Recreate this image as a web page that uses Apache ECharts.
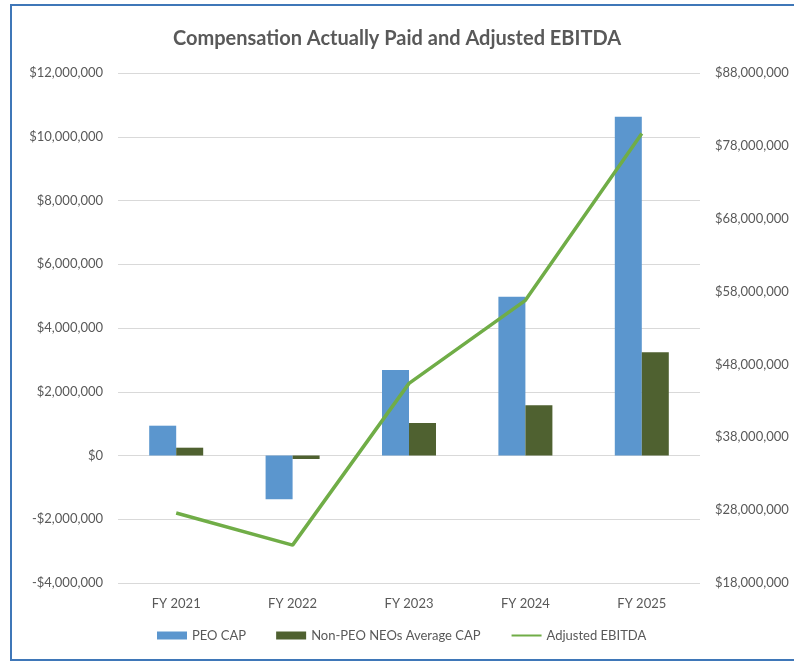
<!DOCTYPE html>
<html>
<head>
<meta charset="utf-8">
<script src="https://cdn.jsdelivr.net/npm/echarts@6/dist/echarts.min.js"></script>
<style>
  html, body { margin: 0; padding: 0; background: #fff; overflow: hidden; }
  #wrap { position: relative; width: 794px; height: 665px; overflow: hidden; }
  #frame {
    position: absolute; left: 10px; top: 4px; width: 784px; height: 657px;
    border: 2px solid #3F77B8; border-right: none; box-sizing: border-box;
  }
  #chart { position: absolute; left: 0; top: 0; width: 794px; height: 665px; }
</style>
</head>
<body>
<div id="wrap">
  <div id="frame"></div>
  <div id="chart"></div>
</div>
<script>
// 数据
const years = ['FY 2021', 'FY 2022', 'FY 2023', 'FY 2024', 'FY 2025']
const peoCap = [935000, -1370000, 2680000, 4980000, 10630000]
const nonPeoCap = [245000, -110000, 1020000, 1580000, 3240000]
const adjEbitda = [27600000, 23200000, 45400000, 56800000, 79700000]

const fontFamily = 'Lato, "Open Sans", sans-serif'
const textColor = '#595959'

function money(v) {
  const s = '$' + Math.abs(v).toLocaleString('en-US')
  return v < 0 ? '-' + s : s
}

const chart = echarts.init(document.getElementById('chart'))
const option = {
  animation: false,
  textStyle: { fontFamily: fontFamily },
  title: {
    text: 'Compensation Actually Paid and Adjusted EBITDA',
    left: 'center',
    top: 24,
    textStyle: { fontFamily: fontFamily, fontSize: 20, fontWeight: 'bold', color: textColor }
  },
  grid: { left: 118, right: 94, top: 73, bottom: 82 },
  legend: {
    bottom: 18,
    left: 152,
    itemWidth: 30,
    itemHeight: 8,
    itemGap: 30,
    textStyle: { fontFamily: fontFamily, fontSize: 13, color: textColor },
    data: [
      { name: 'PEO CAP', icon: 'rect' },
      { name: 'Non-PEO NEOs Average CAP', icon: 'rect' },
      { name: 'Adjusted EBITDA', itemStyle: { opacity: 0 } }
    ]
  },
  xAxis: {
    type: 'category',
    data: years,
    axisLine: { show: false, onZero: false },
    axisTick: { show: false },
    axisLabel: { color: textColor, fontSize: 13, margin: 14 }
  },
  yAxis: [
    {
      type: 'value',
      min: -4000000,
      max: 12000000,
      interval: 2000000,
      axisLine: { show: false },
      axisTick: { show: false },
      splitLine: { lineStyle: { color: '#D9D9D9', width: 1 } },
      axisLabel: { color: textColor, fontSize: 13, margin: 15, formatter: money }
    },
    {
      type: 'value',
      min: 18000000,
      max: 88000000,
      interval: 10000000,
      axisLine: { show: false },
      axisTick: { show: false },
      splitLine: { show: false },
      axisLabel: { color: textColor, fontSize: 13, margin: 15, formatter: money }
    }
  ],
  series: [
    {
      name: 'PEO CAP',
      type: 'bar',
      data: peoCap,
      barWidth: 27,
      barGap: '0%',
      itemStyle: { color: '#5B96CE' }
    },
    {
      name: 'Non-PEO NEOs Average CAP',
      type: 'bar',
      data: nonPeoCap,
      barWidth: 27,
      barGap: '0%',
      itemStyle: { color: '#4F6130' }
    },
    {
      name: 'Adjusted EBITDA',
      type: 'line',
      yAxisIndex: 1,
      data: adjEbitda,
      symbol: 'none',
      lineStyle: { color: '#70AD47', width: 3.5 },
      itemStyle: { color: '#70AD47' }
    }
  ]
}
chart.setOption(option)
</script>
</body>
</html>
